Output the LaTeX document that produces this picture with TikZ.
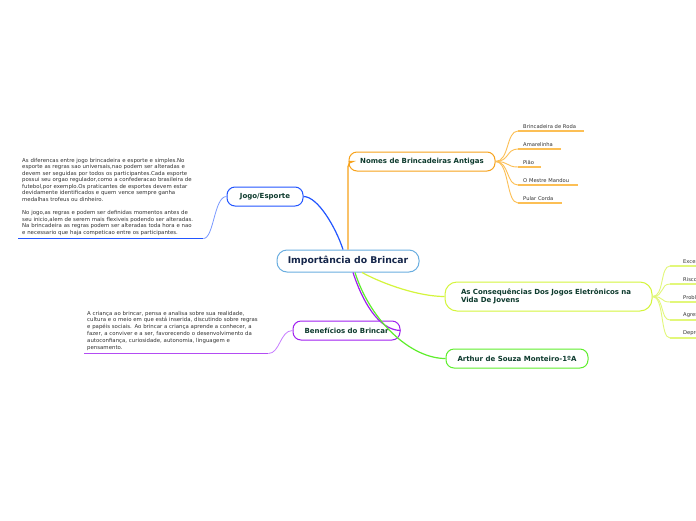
\documentclass[tikz,border=0pt]{standalone}
\usepackage{fontspec}
\setmainfont{DejaVu Sans}
\definecolor{tgreen}{HTML}{0E3B2E}
\definecolor{navy}{HTML}{15264A}
\definecolor{cblue}{HTML}{6AAEE0}
\definecolor{jblue}{HTML}{2255FF}
\definecolor{orng}{HTML}{F7A21B}
\definecolor{lorng}{HTML}{FCBF55}
\definecolor{ygrn}{HTML}{D4F53C}
\definecolor{lygrn}{HTML}{E2F77A}
\definecolor{grn}{HTML}{5EEE2C}
\definecolor{purp}{HTML}{A020F0}
\definecolor{lpurp}{HTML}{C77DFF}
\definecolor{subtxt}{HTML}{333333}
\tikzset{
  topic/.style={draw, rounded corners=8pt, line width=1pt, fill=white, text=tgreen,
    font=\bfseries\fontsize{7}{8.5}\selectfont, minimum height=19pt, inner sep=2pt},
  subitem/.style={anchor=south west, text=subtxt, font=\fontsize{5.2}{6.5}\selectfont,
    inner xsep=5pt, inner ysep=2.5pt, align=left},
  note/.style={anchor=south west, text=subtxt, align=left, inner ysep=3pt},
  conn/.style={line width=1.2pt},
  uline/.style={line width=1.8pt},
}
\begin{document}
\begin{tikzpicture}[x=1pt,y=-1pt]
\useasboundingbox (0,0) rectangle (696,520);
\fill[white] (0,0) rectangle (696,520);

% central
\node[draw=cblue, line width=1pt, rounded corners=10pt, fill=white, text=navy,
  font=\bfseries\fontsize{9.3}{11}\selectfont, minimum width=142pt, minimum height=22pt]
  (c) at (348,261) {Importância do Brincar};

% topics
\node[topic, draw=orng, minimum width=146pt] (n) at (422,161.5) {Nomes de Brincadeiras Antigas};
\node[topic, draw=jblue, minimum width=76pt] (j) at (265,196.5) {Jogo/Esporte};
\node[topic, draw=purp, minimum width=107pt] (b) at (346.5,330.5) {Benefícios do Brincar};
\node[topic, draw=ygrn, minimum width=207pt, minimum height=29pt, rounded corners=12pt,
  align=left, text width=175pt, inner xsep=16pt] (q) at (548.5,296.5) {As Consequências Dos Jogos Eletrônicos na\\Vida De Jovens};
\node[topic, draw=grn, minimum width=142pt] (a) at (517,358.5) {Arthur de Souza Monteiro-1ºA};

% main connectors
\draw[conn, orng, rounded corners=5pt] (c.north) |- (n.west);
\draw[conn, jblue] ([xshift=-5pt]c.north) .. controls (336,228) and (318,196.5) .. (j.east);
\draw[conn, purp] ([xshift=5pt]c.south) .. controls (362,300) and (378,330) .. (b.east);
\draw[conn, grn] ([xshift=7pt]c.south) .. controls (370,320) and (410,358.5) .. (a.west);
\draw[conn, ygrn] ([xshift=14pt]c.south) .. controls (385,285) and (420,296.5) .. (q.west);

% sub items of Nomes
\node[subitem, text width=56pt] (s1) at (518,131) {Brincadeira de Roda};
\node[subitem, text width=33pt] (s2) at (518,149) {Amarelinha};
\node[subitem, text width=13pt] (s3) at (518,167) {Pião};
\node[subitem, text width=50pt] (s4) at (518,185) {O Mestre Mandou};
\node[subitem, text width=34pt] (s5) at (518,203) {Pular Corda};
\foreach \s in {s1,s2,s3,s4,s5}{
  \draw[lorng, line width=0.9pt] (n.east) .. controls +(14,0) and +(-12,0) .. (\s.south west);
  \draw[lorng, uline] (\s.south west) -- (\s.south east);
}

% sub items of Consequencias (cut by picture edge, as in the reference)
\begin{scope}
\clip (0,0) rectangle (696,520);
\node[subitem, inner xsep=13pt, text width=50pt] (e1) at (670,266) {Excesso};
\node[subitem, inner xsep=13pt, text width=50pt] (e2) at (670,284) {Riscos};
\node[subitem, inner xsep=13pt, text width=50pt] (e3) at (670,302) {Problemas};
\node[subitem, inner xsep=13pt, text width=50pt] (e4) at (670,320) {Agressividade};
\node[subitem, inner xsep=13pt, text width=50pt] (e5) at (670,338) {Depressão};
\foreach \s in {e1,e2,e3,e4,e5}{
  \draw[lygrn, line width=0.9pt] (q.east) .. controls +(12,0) and +(-10,0) .. (\s.south west);
  \draw[lygrn, uline] (\s.south west) -- (\s.south east);
}
\end{scope}

% Jogo note
\node[note, text width=177pt, inner xsep=4pt, font=\fontsize{5.4}{6.55}\selectfont] (jt) at (18,238.5)
{As diferencas entre jogo brincadeira e esporte e simples.No\\
esporte as regras sao universais,nao podem ser alteradas e\\
devem ser seguidas por todos os participantes.Cada esporte\\
possui seu orgao regulador,como a confederacao brasileira de\\
futebol,por exemplo.Os praticantes de esportes devem estar\\
devidamente identificados e quem vence sempre ganha\\
medalhas trofeus ou dinheiro.\\[6.55pt]
No jogo,as regras e podem ser definidas momentos antes de\\
seu inicio,alem de serem mais flexiveis podendo ser alteradas.\\
Na brincadeira as regras podem ser alteradas toda hora e nao\\
e necessario que haja competicao entre os participantes.};
\draw[jblue!60, line width=0.8pt] (j.west) .. controls (214,196.5) and (214,238.5) .. (jt.south east);
\draw[jblue, uline] (jt.south east) -- (jt.south west);

% Beneficios note
\node[note, text width=178pt, inner xsep=3pt, font=\fontsize{5.4}{6.8}\selectfont] (bt) at (84,353.5)
{A criança ao brincar, pensa e analisa sobre sua realidade,\\
cultura e o meio em que está inserida, discutindo sobre regras\\
e papéis sociais. Ao brincar a criança aprende a conhecer, a\\
fazer, a conviver e a ser, favorecendo o desenvolvimento da\\
autoconfiança, curiosidade, autonomia, linguagem e\\
pensamento.};
\draw[lpurp, line width=0.8pt] (b.west) .. controls (280,330.5) and (280,353.5) .. (bt.south east);
\draw[purp!80, uline] (bt.south east) -- (bt.south west);
\end{tikzpicture}
\end{document}
